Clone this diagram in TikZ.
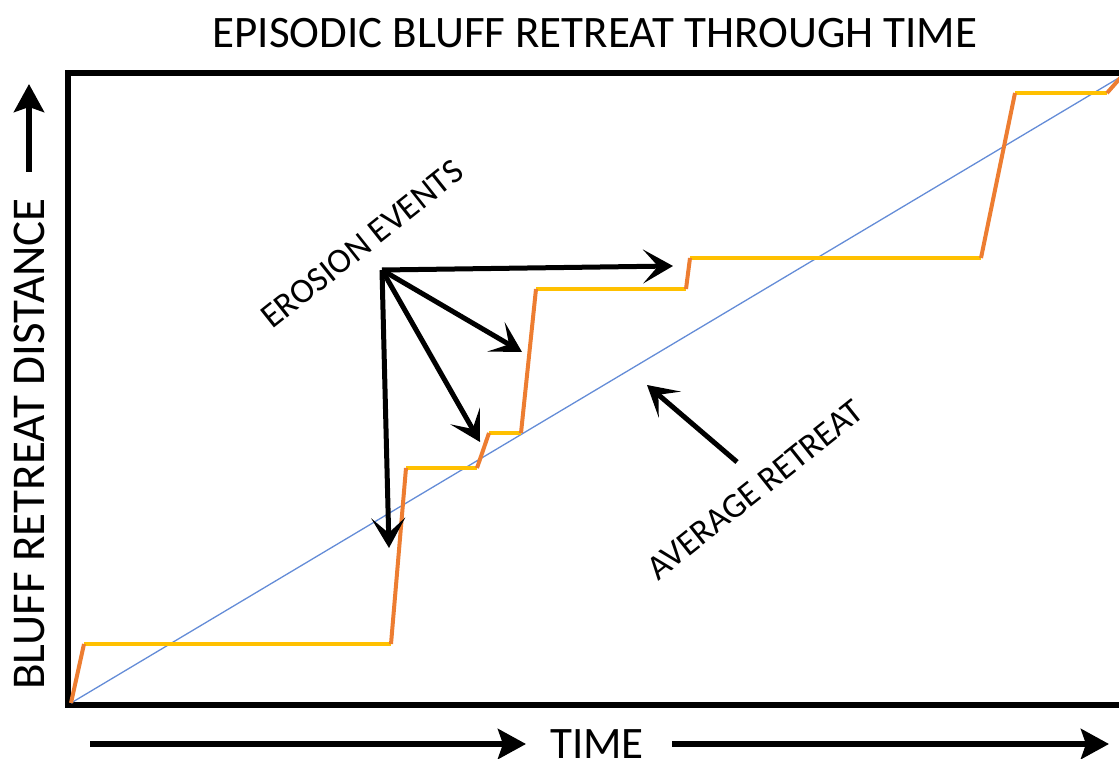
\documentclass[tikz,border=0pt]{standalone}
\usepackage{fontspec}
\setmainfont{Carlito}
\usetikzlibrary{arrows.meta}
\definecolor{riseorange}{RGB}{237,125,49}
\definecolor{flatyellow}{RGB}{255,192,0}
\definecolor{avgblue}{RGB}{100,140,215}
\begin{document}
\begin{tikzpicture}[x=1pt,y=-1pt]
        \tikzstyle{label}=[inner sep=0pt,font=\fontsize{45}{50}\selectfont]
        \tikzstyle{tag}=[inner sep=0pt,font=\fontsize{35}{40}\selectfont,rotate=38.5]
        \tikzstyle{rise}=[draw=riseorange,line width=4pt]
        \tikzstyle{flat}=[draw=flatyellow,line width=4pt]
        \tikzstyle{pointer}=[draw,line width=5pt,-{Stealth[length=30pt,width=34pt,inset=15pt]}]
        \tikzstyle{axis}=[draw,line width=6pt,-{Stealth[length=28pt,width=30pt,inset=5pt]}]
        \useasboundingbox (0,0) rectangle (1119,759);
       \begin{scope}
         % frame
         \draw[line width=6pt] (1124,73) -- (68,73) -- (68,705) -- (1124,705);

         % step points
         \coordinate (p0) at (71,703);
         \coordinate (p1) at (84,644);
         \coordinate (p2) at (391,644);
         \coordinate (p3) at (406,468);
         \coordinate (p4) at (477,468);
         \coordinate (p5) at (489,433);
         \coordinate (p6) at (521,433);
         \coordinate (p7) at (536,289);
         \coordinate (p8) at (686,289);
         \coordinate (p9) at (690,258);
         \coordinate (p10) at (981,258);
         \coordinate (p11) at (1015,93);
         \coordinate (p12) at (1107,93);
         \coordinate (p13) at (1122,76);

         \path[draw=avgblue,line width=1.3pt] (p0) -- (p13);

         \path (p1) edge[flat] (p2) (p3) edge[flat] (p4) (p5) edge[flat] (p6)
               (p7) edge[flat] (p8) (p9) edge[flat] (p10) (p11) edge[flat] (p12);
         \path (p0) edge[rise] (p1) (p2) edge[rise] (p3) (p4) edge[rise] (p5)
               (p6) edge[rise] (p7) (p8) edge[rise] (p9) (p10) edge[rise] (p11)
               (p12) edge[rise] (p13);

         % erosion events
         \coordinate (ev) at (382,270);
         \coordinate (e1) at (673,266);
         \coordinate (e2) at (522,352);
         \coordinate (e3) at (480,442);
         \coordinate (e4) at (389,548);
         \path (ev) edge[pointer] (e1) (ev) edge[pointer] (e2)
               (ev) edge[pointer] (e3) (ev) edge[pointer] (e4);
         \node [tag] (events) at (362,244) {EROSION EVENTS};

         % average retreat
         \coordinate (a0) at (737,462);
         \coordinate (a1) at (647,385);
         \path (a0) edge[pointer] (a1);
         \node [tag] (average) at (755,490) {AVERAGE RETREAT};

         % titles and axes
         \node [label] (title) at (595,33) {EPISODIC BLUFF RETREAT THROUGH TIME};
         \node [label,rotate=90,font=\fontsize{47}{50}\selectfont] (ylabel) at (29,444) {BLUFF RETREAT DISTANCE};
         \coordinate (y0) at (29,172);
         \coordinate (y1) at (29,84);
         \path (y0) edge[axis] (y1);

         \node [label] (time) at (597,744) {TIME};
         \coordinate (t0) at (90,744);
         \coordinate (t1) at (526,744);
         \coordinate (t2) at (672,744);
         \coordinate (t3) at (1109,744);
         \path (t0) edge[axis] (t1) (t2) edge[axis] (t3);
        \end{scope}
      \end{tikzpicture}
\end{document}
